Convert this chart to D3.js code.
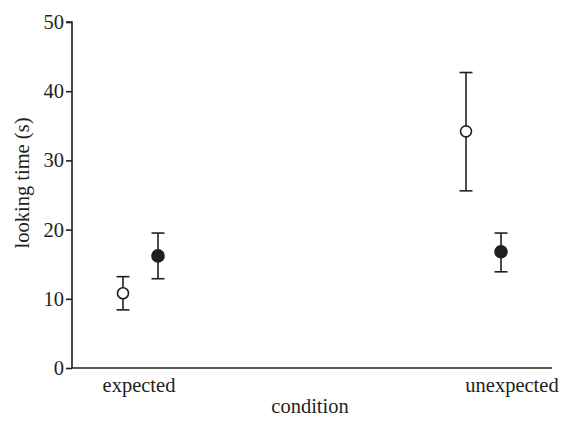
<!DOCTYPE html>
<html>
<head>
<meta charset="utf-8">
<script src="https://cdn.jsdelivr.net/npm/d3@7"></script>
<style>
  body { margin: 0; background: #fff; }
  text { font-family: "Liberation Serif", "Times New Roman", serif; fill: #231f20; }
</style>
</head>
<body>
<div class="chart"></div>
<script>
// data
const conditions = ["expected", "unexpected"];
const series = ["open", "filled"];
const means = { open: [10.8, 34.2], filled: [16.2, 16.8] };
const upper = { open: [13.2, 42.7], filled: [19.5, 19.5] };
const lower = { open: [8.4, 25.6], filled: [12.9, 13.9] };
const yTicks = [0, 10, 20, 30, 40, 50];

const totalWidth = 563, totalHeight = 421;
const ink = "#231f20";
const fontSize = 20.5;

const svg = d3
  .select(".chart")
  .append("svg")
  .attr("width", totalWidth)
  .attr("height", totalHeight);

//y scale
const yScale = d3.scaleLinear().domain([0, 50]).range([368, 22]);

//x scale for condition groups, and offset for the two series
const xScale = d3.scalePoint().domain(conditions).range([140.5, 483.5]);
const offset = d3.scalePoint().domain(series).range([-17.5, 17.5]);
//label positions under the axis
const labelScale = d3.scalePoint().domain(conditions).range([139, 512]);

//y axis
const yAxis = d3.axisLeft(yScale).tickValues(yTicks).tickSize(6).tickPadding(2);
const yG = svg.append("g").attr("transform", "translate(72,0)").call(yAxis);
yG.select(".domain").attr("d", "M-6,22H0V368").attr("stroke", ink).attr("stroke-width", 1.6);
yG.selectAll(".tick line").attr("stroke", ink).attr("stroke-width", 1.6);
yG.selectAll(".tick text").attr("font-size", fontSize).attr("font-family", "Liberation Serif").attr("fill", ink);

//x axis line
svg.append("line")
  .attr("x1", 72).attr("x2", 552)
  .attr("y1", yScale(0)).attr("y2", yScale(0))
  .attr("stroke", ink).attr("stroke-width", 1.6);

//x labels
svg.selectAll(".xlabel")
  .data(conditions)
  .enter()
  .append("text")
  .attr("class", "xlabel")
  .attr("x", (d) => labelScale(d))
  .attr("y", 392)
  .attr("text-anchor", "middle")
  .attr("font-size", fontSize)
  .text((d) => d);

//axis titles
svg.append("text")
  .attr("x", 310).attr("y", 413)
  .attr("text-anchor", "middle")
  .attr("font-size", fontSize)
  .text("condition");

svg.append("text")
  .attr("transform", "translate(29,183) rotate(-90)")
  .attr("text-anchor", "middle")
  .attr("font-size", fontSize)
  .text("looking time (s)");

//points with error bars
const points = [];
series.forEach((s) => {
  conditions.forEach((c, i) => {
    points.push({ series: s, condition: c, mean: means[s][i], hi: upper[s][i], lo: lower[s][i] });
  });
});

const g = svg.selectAll(".pt").data(points).enter().append("g").attr("class", "pt")
  .attr("transform", (d) => `translate(${xScale(d.condition) + offset(d.series)},0)`);

g.append("line")
  .attr("y1", (d) => yScale(d.hi)).attr("y2", (d) => yScale(d.lo))
  .attr("stroke", ink).attr("stroke-width", 1.6);
g.append("line")
  .attr("x1", -6.5).attr("x2", 6.5)
  .attr("y1", (d) => yScale(d.hi)).attr("y2", (d) => yScale(d.hi))
  .attr("stroke", ink).attr("stroke-width", 1.6);
g.append("line")
  .attr("x1", -6.5).attr("x2", 6.5)
  .attr("y1", (d) => yScale(d.lo)).attr("y2", (d) => yScale(d.lo))
  .attr("stroke", ink).attr("stroke-width", 1.6);
g.append("circle")
  .attr("cy", (d) => yScale(d.mean))
  .attr("r", (d) => (d.series === "open" ? 5.5 : 6))
  .attr("fill", (d) => (d.series === "open" ? "#fff" : ink))
  .attr("stroke", ink)
  .attr("stroke-width", 1.6);
</script>
</body>
</html>
